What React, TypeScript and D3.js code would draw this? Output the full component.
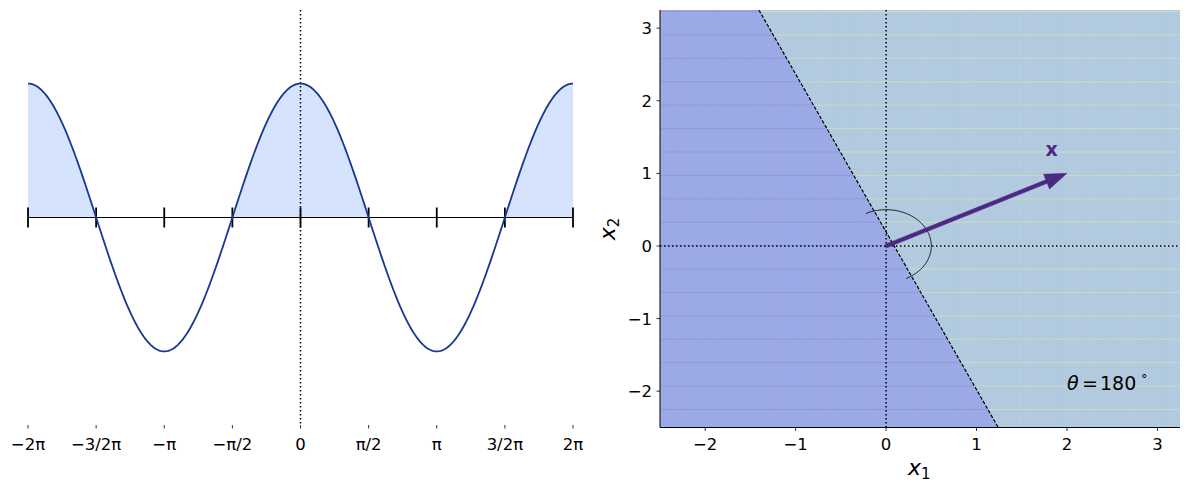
import React from "react";
import * as d3 from "d3";

const PI = Math.PI;
// Left panel
const leftTickValues = [-2 * PI, -1.5 * PI, -PI, -0.5 * PI, 0, 0.5 * PI, PI, 1.5 * PI, 2 * PI];
const leftTickLabels = ["−2π", "−3/2π", "−π", "−π/2", "0", "π/2", "π", "3/2π", "2π"];
const curveX = d3.range(0, 401).map((i) => -2 * PI + (4 * PI * i) / 400);
const curveY = curveX.map((x) => Math.cos(x));

// Right panel
const rightXTicks = [-2, -1, 0, 1, 2, 3];
const rightYTicks = [-2, -1, 0, 1, 2, 3];
const vectorX = [2, 1];
const boundaryTop = [-1.406, 3.25];
const boundaryBottom = [1.24, -2.5];
const arcRadius = 0.5;
const thetaText = "180";

const W = 1190, H = 490;

export default function App() {
  // left scales
  const lx = d3.scaleLinear().domain([-2 * PI, 2 * PI]).range([28, 573]);
  const ly = d3.scaleLinear().domain([-1.55, 1.55]).range([425, 10]);
  const pts: [number, number][] = curveX.map((x, i) => [x, curveY[i]]);
  const line = d3.line<[number, number]>().x((d) => lx(d[0])).y((d) => ly(d[1]));
  const area = d3
    .area<[number, number]>()
    .x((d) => lx(d[0]))
    .y0(ly(0))
    .y1((d) => ly(Math.max(0, d[1])));

  // right scales
  const rx = d3.scaleLinear().domain([-2.5, 3.25]).range([660, 1180]);
  const ry = d3.scaleLinear().domain([-2.5, 3.25]).range([427.5, 10]);
  const [x0, x1] = rx.domain();
  const [y0, y1] = ry.domain();
  const leftPoly = [
    [x0, y1],
    boundaryTop,
    boundaryBottom,
    [x0, y0],
  ].map((p) => `${rx(p[0])},${ry(p[1])}`).join(" ");
  const rightPoly = [
    boundaryTop,
    [x1, y1],
    [x1, y0],
    boundaryBottom,
  ].map((p) => `${rx(p[0])},${ry(p[1])}`).join(" ");

  // arrow
  const ax0 = rx(0), ay0 = ry(0), ax1 = rx(vectorX[0]), ay1 = ry(vectorX[1]);
  const dx = ax1 - ax0, dy = ay1 - ay0;
  const len = Math.hypot(dx, dy);
  const ux = dx / len, uy = dy / len;
  const nx = -uy, ny = ux;
  const headL = 22, headW = 8, shaftW = 1.9;
  const bx = ax1 - ux * headL, by = ay1 - uy * headL;
  const arrowPts = [
    [ax0 + nx * shaftW, ay0 + ny * shaftW],
    [bx + nx * shaftW, by + ny * shaftW],
    [bx + nx * headW, by + ny * headW],
    [ax1, ay1],
    [bx - nx * headW, by - ny * headW],
    [bx - nx * shaftW, by - ny * shaftW],
    [ax0 - nx * shaftW, ay0 - ny * shaftW],
  ].map((p) => p.join(",")).join(" ");

  // arc: half circle (in data units) around vector
  const ang = Math.atan2(vectorX[1], vectorX[0]);
  const arcPts = d3.range(0, 181).map((i) => {
    const a = ang - PI / 2 + (PI * i) / 180;
    return [rx(arcRadius * Math.cos(a)), ry(arcRadius * Math.sin(a))] as [number, number];
  });
  const arcPath = d3.line()(arcPts) || "";

  const font = "DejaVu Sans, sans-serif";
  const fs = 16.5;

  return (
    <svg width={W} height={H} style={{ position: "absolute", left: 0, top: 0, display: "block" }} fontFamily={font}>
      <defs>
        <clipPath id="rclip">
          <rect x={660} y={10} width={520} height={417.5} />
        </clipPath>
        <pattern id="pl" patternUnits="userSpaceOnUse" x={660} y={35 - 0.5} width={3.06} height={23.4}>
          <rect width={3.06} height={23.4} fill="#99ade9" />
          <rect x={0} width={1} height={23.4} fill="#a0a3e2" />
          <rect y={0} width={3.06} height={1} fill="#9896d6" />
        </pattern>
        <pattern id="pr" patternUnits="userSpaceOnUse" x={660} y={35 - 0.5} width={3.06} height={23.4}>
          <rect width={3.06} height={23.4} fill="#afc9e4" />
          <rect x={0} width={1} height={23.4} fill="#b8cdd6" />
          <rect y={0} width={3.06} height={1} fill="#ccd9c4" />
        </pattern>
      </defs>

      {/* LEFT PANEL */}
      <path d={area(pts) || ""} fill="#d5e4fc" />
      <line x1={lx(0)} x2={lx(0)} y1={10} y2={425} stroke="#000" strokeWidth={1.5} strokeDasharray="1.5,2.5" />
      <line x1={lx(-2 * PI)} x2={lx(2 * PI)} y1={ly(0)} y2={ly(0)} stroke="#000" strokeWidth={1.2} />
      {leftTickValues.map((v, i) => (
        <line key={"mt" + i} x1={lx(v)} x2={lx(v)} y1={ly(0) - 10} y2={ly(0) + 10} stroke="#000" strokeWidth={1.8} />
      ))}
      <path d={line(pts) || ""} fill="none" stroke="#19388e" strokeWidth={1.8} />
      {leftTickValues.map((v, i) => (
        <g key={"bt" + i}>
          <line x1={lx(v)} x2={lx(v)} y1={425} y2={428.5} stroke="#000" strokeWidth={0.8} />
          <text x={lx(v)} y={449.5} textAnchor="middle" fontSize={fs} fill="#000">
            {leftTickLabels[i]}
          </text>
        </g>
      ))}

      {/* RIGHT PANEL */}
      <g clipPath="url(#rclip)">
        <polygon points={leftPoly} fill="url(#pl)" />
        <polygon points={rightPoly} fill="url(#pr)" />
        <line x1={rx(boundaryTop[0])} y1={ry(boundaryTop[1])} x2={rx(boundaryBottom[0])} y2={ry(boundaryBottom[1])}
          stroke="#000" strokeWidth={1.2} strokeDasharray="3.7,1.6" />
        <line x1={rx(0)} x2={rx(0)} y1={10} y2={427.5} stroke="#000" strokeWidth={1.5} strokeDasharray="1.5,2.5" />
        <line x1={660} x2={1180} y1={ry(0)} y2={ry(0)} stroke="#000" strokeWidth={1.5} strokeDasharray="1.5,2.5" />
        <path d={arcPath} fill="none" stroke="#000" strokeWidth={0.9} />
        <polygon points={arrowPts} fill="#4b2982" stroke="#4b2982" strokeWidth={0.5} />
      </g>
      <text x={rx(1.83)} y={ry(1.33) + 6.5} textAnchor="middle" fontSize={19} fontWeight="bold" fill="#4b2982">x</text>
      <text x={1067} y={390} fontSize={19} fill="#000" fontStyle="italic">θ</text>
      <text x={1082} y={390} fontSize={19} fill="#000">=</text>
      <text x={1100} y={390} fontSize={19} fill="#000">{thetaText}</text>
      <text x={1141} y={383} fontSize={13} fill="#000">°</text>

      {/* spines */}
      <line x1={660} x2={660} y1={10} y2={427.5} stroke="#000" strokeWidth={1} />
      <line x1={660} x2={1180} y1={427.5} y2={427.5} stroke="#000" strokeWidth={1} />
      {rightXTicks.map((v) => (
        <g key={"rx" + v}>
          <line x1={rx(v)} x2={rx(v)} y1={427.5} y2={431} stroke="#000" strokeWidth={0.8} />
          <text x={rx(v)} y={449.5} textAnchor="middle" fontSize={fs} fill="#000">{v < 0 ? "−" + Math.abs(v) : String(v)}</text>
        </g>
      ))}
      {rightYTicks.map((v) => (
        <g key={"ry" + v}>
          <line x1={656.5} x2={660} y1={ry(v)} y2={ry(v)} stroke="#000" strokeWidth={0.8} />
          <text x={652} y={ry(v) + 6} textAnchor="end" fontSize={fs} fill="#000">{v < 0 ? "−" + Math.abs(v) : String(v)}</text>
        </g>
      ))}
      <text x={908} y={475} fontSize={22} fill="#000">
        <tspan fontStyle="italic">x</tspan>
        <tspan fontSize={15} dy={4}>1</tspan>
      </text>
      <text transform={`translate(615,${ry(0) - 17}) rotate(-90)`} fontSize={22} fill="#000" textAnchor="middle">
        <tspan fontStyle="italic">x</tspan>
        <tspan fontSize={15} dy={4}>2</tspan>
      </text>
    </svg>
  );
}
